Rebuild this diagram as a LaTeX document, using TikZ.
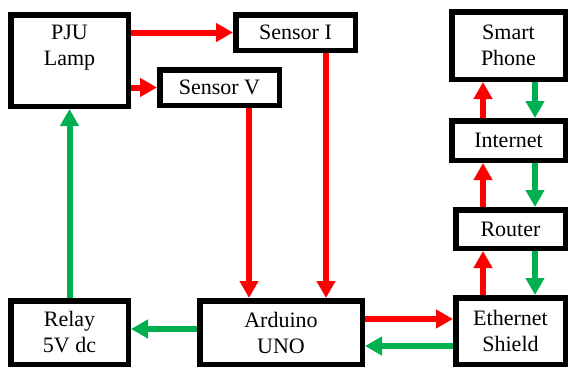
\documentclass[tikz,border=0pt]{standalone}
\usepackage{xcolor}
\usepackage{fontspec}
\newfontfamily\blockfont{Liberation Serif}
\usetikzlibrary{arrows.meta}
\usetikzlibrary{positioning}
\definecolor{sigred}{RGB}{255,0,0}
\definecolor{siggreen}{RGB}{0,176,80}

\begin{document}
\begin{tikzpicture}[x=1pt,y=-1pt]
\tikzset{block/.style={rectangle,draw,line width=5.5pt,align=center,inner sep=0pt,font=\blockfont\fontsize{22}{26}\selectfont},
  req/.style={draw=sigred,fill=sigred,line width=6pt,-{Triangle[length=17pt,width=18pt]}},
  ack/.style={draw=siggreen,fill=siggreen,line width=6pt,-{Triangle[length=17pt,width=18pt]}}}
\useasboundingbox (0,0) rectangle (568,367);
% left and middle part
\node[block,minimum width=117.5pt,minimum height=91.5pt](pju) at (69.5,60.5){PJU\\Lamp\\[5pt]\mbox{}};
\node[block,minimum width=119.5pt,minimum height=35.5pt](sensi) at (295.5,32.5){Sensor I};
\node[block,minimum width=119.5pt,minimum height=35.5pt](sensv) at (219.5,87.5){Sensor V};
\node[block,minimum width=117.5pt,minimum height=63.5pt](relay) at (69.5,332.5){Relay\\5V dc};
\node[block,minimum width=162.5pt,minimum height=63.5pt](ard) at (281,332.5){Arduino\\UNO};
% right column
\node[block,minimum width=113.5pt,minimum height=67.5pt](phone) at (508.5,45.5){Smart\\Phone};
\node[block,minimum width=113.5pt,minimum height=39.5pt](inet) at (508.5,140.5){Internet};
\node[block,minimum width=109.5pt,minimum height=38.5pt](router) at (510.5,229){Router};
\node[block,minimum width=109.5pt,minimum height=66.5pt](eth) at (510.5,331){Ethernet\\Shield};
\coordinate (vx) at (249,0);
\coordinate (ix) at (326,0);
\coordinate (upx) at (483,0);
\coordinate (dnx) at (535,0);
\draw[req](pju.east |- sensi.west) -- (sensi.west);
\draw[req](pju.east |- sensv.west) -- (sensv.west);
\draw[req](vx |- sensv.south) -- (vx |- ard.north);
\draw[req](ix |- sensi.south) -- (ix |- ard.north);
\draw[req]([yshift=13.5pt]ard.east) -- ([yshift=13.5pt]ard.east -| eth.west);
\draw[ack]([yshift=-13.5pt]ard.east -| eth.west) -- ([yshift=-13.5pt]ard.east);
\draw[ack]([yshift=3.5pt]ard.west) -- ([yshift=3.5pt]ard.west -| relay.east);
\draw[ack](relay.north) -- (pju.south);
\foreach \a/\b in {eth/router,router/inet,inet/phone}{
  \draw[req](upx |- \a.north) -- (upx |- \b.south);
  \draw[ack](dnx |- \b.south) -- (dnx |- \a.north);
}
\end{tikzpicture}
\end{document}
